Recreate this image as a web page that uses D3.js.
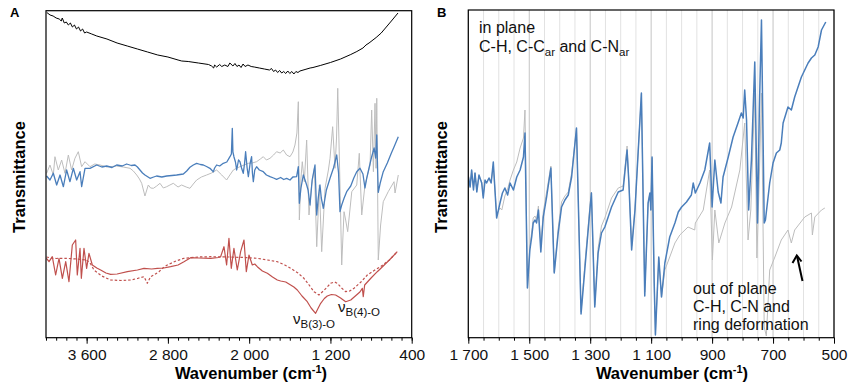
<!DOCTYPE html>
<html><head><meta charset="utf-8">
<script src="https://cdn.jsdelivr.net/npm/d3@7"></script>
<style>
html,body{margin:0;padding:0;background:#fff;}
text{font-family:"Liberation Sans",Arial,sans-serif;}
</style></head>
<body><svg id="c" width="850" height="390"></svg>
<script>
// ---------- DATA (wavenumber cm-1, transmittance a.u.) ----------
const ticksA = [3600, 2800, 2000, 1200, 400];
const ticksB = [1700, 1500, 1300, 1100, 900, 700, 500];

const blackA = [[3992,325.5],[3960,323],[3930,322],[3900,320],[3870,319],[3850,317],[3840,320],[3820,315],[3800,316],[3780,313],[3760,315],[3740,311],[3720,313],[3700,309],[3680,311],[3660,307],[3640,309],[3620,305],[3600,306],[3550,304],[3500,302],[3400,299],[3300,295],[3200,292],[3100,289],[3000,286],[2900,283],[2800,281],[2700,278],[2664,277],[2600,276.5],[2500,275],[2400,273.5],[2370,272],[2350,270],[2340,273],[2320,271],[2290,273.5],[2270,271.5],[2240,273],[2210,271.5],[2190,275],[2160,272],[2140,274.5],[2120,271.5],[2100,273],[2080,270.5],[2060,274],[2040,271.5],[2012,273],[1980,271.5],[1950,271],[1900,270],[1850,269],[1800,268],[1780,269.5],[1760,266.5],[1740,268],[1720,265.5],[1700,267.5],[1680,265],[1660,266.5],[1640,264.5],[1620,267],[1600,264.5],[1580,266.5],[1560,264],[1540,266.5],[1520,265.5],[1500,267],[1450,268.5],[1400,270],[1372,270.5],[1300,272.5],[1200,275.5],[1100,279],[1000,283.5],[940,286.5],[880,290],[850,293],[820,295],[750,300.5],[700,305],[650,311],[600,317],[535,325]];

const blueA = [[3994,162],[3961,158],[3928,164.7],[3895,153],[3862,163],[3829,151.3],[3797,168],[3764,156.3],[3731,169.7],[3698,158],[3665,166.3],[3649,151.3],[3616,169.7],[3567,169.7],[3501,173],[3450,171],[3403,172],[3350,170.5],[3304,173],[3250,172],[3206,174],[3160,172.5],[3124,173],[3100,171],[3075,168],[3050,165],[3026,163],[2976,159.7],[2940,161],[2911,162],[2860,161],[2812,162],[2760,162.5],[2714,163],[2648,164],[2615,167],[2583,170.7],[2550,173],[2517,174.7],[2480,173.5],[2451,173],[2420,171.5],[2386,169.7],[2353,166.3],[2340,170],[2320,173],[2290,172],[2255,174.7],[2220,176],[2189,181.3],[2175,184],[2166,209.7],[2160,186],[2150,181.3],[2135,176],[2123,168],[2105,178],[2091,176.3],[2075,170],[2058,164.7],[2045,175],[2035,186.3],[2020,170],[2008,161.3],[1990,175],[1976,181.3],[1968,165],[1959,156.3],[1945,168],[1927,171.3],[1900,168],[1861,166.3],[1830,163],[1795,161.3],[1760,160],[1730,158.7],[1690,160.5],[1660,158.5],[1631,159.7],[1598,158],[1570,161],[1533,161.3],[1516,171.3],[1506,134.7],[1490,150],[1467,163],[1450,158],[1434,153],[1420,148],[1401,133],[1380,158],[1352,173],[1335,123],[1320,140],[1303,153],[1290,140],[1270,129.7],[1240,148],[1204,159.7],[1170,170],[1138,183],[1120,165],[1106,126.3],[1089,133],[1065,140],[1040,146.3],[1000,152],[970,160],[941,166.3],[909,169.7],[880,164],[860,150],[843,159.7],[820,170],[794,181.3],[770,190],[755,180],[744,203],[736,170],[729,145.7],[710,155],[680,166.3],[640,175],[600,185],[570,192],[532,201.3]];

const grayA = [[3994,164.7],[3961,173],[3928,163],[3912,181.3],[3879,168],[3846,178],[3813,164.7],[3780,183],[3748,168],[3715,179.7],[3682,186.3],[3649,171.3],[3616,176.3],[3567,171.3],[3520,174],[3468,173],[3400,171],[3304,172],[3240,171],[3173,169.7],[3140,167],[3107,163],[3080,159],[3058,154.7],[3026,142],[2993,153],[2970,150],[2943,149.7],[2910,152],[2878,154.7],[2845,150],[2812,151.3],[2780,153],[2747,154.7],[2700,151],[2665,153],[2620,151],[2583,149.7],[2550,154],[2517,158],[2470,161],[2419,163],[2370,165],[2320,168],[2270,163],[2222,158],[2190,163],[2156,168],[2120,170],[2091,171.3],[2050,173],[2008,174.7],[1970,175],[1927,176.3],[1890,179],[1861,181.3],[1830,178],[1795,179.7],[1760,183],[1730,186.3],[1695,185],[1664,188],[1631,183],[1598,181.3],[1570,186],[1549,193],[1530,205],[1516,236.3],[1506,118],[1490,160],[1477,176.3],[1457,156.3],[1445,178],[1434,198],[1411,123],[1385,153],[1358,169.7],[1335,91.3],[1309,153],[1286,86.3],[1253,149.7],[1220,168],[1204,179.7],[1178,211.3],[1155,169.7],[1140,200],[1128,249.7],[1106,153],[1089,73],[1066,126.3],[1050,118],[1030,106.3],[990,146.3],[941,153],[916,184.7],[892,123],[860,153],[810,173],[794,228],[777,166.3],[761,234.7],[751,169.7],[744,239.7],[729,78],[706,113],[680,136.3],[631,146.3],[574,156.3],[564,145],[532,163]];

const redSolidA = [[3995,79.7],[3970,76.3],[3938,81.3],[3905,63],[3872,79.7],[3839,59.7],[3806,76.3],[3774,56.3],[3741,93],[3708,98],[3692,63],[3665,89.7],[3652,59.7],[3626,89.7],[3600,69.7],[3577,84.7],[3544,73],[3500,70],[3462,68],[3410,65],[3364,63.7],[3300,64],[3199,66.3],[3100,68],[3035,69.7],[2960,69],[2904,69.7],[2840,70],[2773,71.3],[2700,73],[2642,76.3],[2576,80.3],[2500,80],[2379,79.7],[2300,80.5],[2281,81.3],[2248,91.3],[2222,73],[2199,99.7],[2176,69.7],[2150,89.7],[2117,68],[2084,86.3],[2051,98],[2028,66.3],[2002,83],[1969,73],[1945,74],[1920,71.3],[1870,67],[1821,64.7],[1770,61],[1723,58],[1690,57],[1640,56],[1592,53],[1560,51],[1526,48],[1480,42],[1428,36.3],[1390,30],[1346,24.7],[1320,30],[1296,34.7],[1260,39.5],[1231,42],[1190,43.5],[1149,43],[1100,40],[1050,36.3],[1000,38],[952,42.3],[910,46],[886,49.7],[877,41.3],[863,53],[800,60],[739,66.3],[680,72],[620,78],[542,86.3]];

const redDashA = [[3995,81],[3950,80],[3900,79.5],[3800,79.7],[3700,79],[3600,78],[3560,74],[3528,68],[3450,62],[3364,58],[3260,57.5],[3167,58],[3100,59.5],[3035,61.3],[3003,54.7],[2970,61.3],[2930,63.5],[2888,66.3],[2850,70],[2806,73],[2720,77],[2642,79.7],[2500,81],[2379,81.3],[2200,81],[2050,80.5],[1920,79.7],[1820,78],[1723,76.3],[1650,73],[1592,69.7],[1520,65],[1461,59.7],[1410,53],[1362,46.3],[1313,43],[1260,48],[1198,54.7],[1160,56],[1132,54.7],[1090,50],[1050,46.3],[1010,47],[968,49.7],[900,56],[837,63],[770,67.5],[706,71.3],[620,78],[542,86.3]];

const blueB = [[1700,161.3],[1694,151],[1689,168],[1683,148],[1678,165],[1672,146],[1665,163],[1656,155],[1651,140],[1645,158],[1640,155],[1632,160],[1625,155],[1618,176],[1607,120],[1596,135],[1588,145],[1580,150],[1571,143],[1563,155],[1552,148],[1541,161],[1530,168],[1519,181],[1514,205],[1506,50],[1498,88],[1492,101],[1487,115],[1481,118],[1476,115],[1470,128],[1462,86],[1454,121],[1443,141],[1429,170],[1418,65],[1405,105],[1394,131],[1383,138],[1372,143],[1361,161],[1345,210],[1330,24],[1317,71],[1301,128],[1296,145],[1285,31],[1274,85],[1263,105],[1252,111],[1230,131],[1208,146],[1192,148],[1179,188],[1173,155],[1164,88],[1153,128],[1132,245],[1121,42],[1110,135],[1104,145],[1101,128],[1097,181],[1090,55],[1086,3],[1075,81],[1066,41],[1055,75],[1039,101],[1022,115],[1011,126],[1000,131],[984,136],[968,143],[962,155],[955,145],[940,155],[924,168],[908,195],[900,131],[891,178],[880,146],[871,135],[864,161],[847,181],[831,201],[815,215],[804,225],[798,220],[793,248],[787,218],[780,128],[771,178],[760,276],[751,115],[745,228],[738,318],[729,115],[725,118],[711,155],[700,175],[689,185],[678,188],[673,195],[667,215],[651,231],[640,228],[629,241],[607,261],[585,275],[574,280],[563,283],[552,291],[541,308],[527,316]];

const grayB = [[1700,163],[1694,153],[1689,167],[1683,150],[1678,165],[1672,148],[1665,162],[1656,156],[1651,142],[1645,158],[1640,156],[1632,160],[1625,156],[1618,172],[1607,124],[1596,130],[1590,128],[1580,142],[1570,150],[1563,158],[1552,168],[1541,176],[1530,190],[1519,200],[1514,228],[1506,50],[1498,92],[1492,106],[1487,120],[1481,122],[1476,118],[1470,132],[1462,92],[1454,126],[1443,146],[1429,172],[1418,66],[1405,110],[1394,136],[1383,142],[1372,146],[1361,165],[1345,210],[1330,26],[1317,76],[1301,132],[1296,146],[1285,33],[1274,90],[1263,112],[1252,120],[1230,140],[1208,150],[1192,152],[1179,192],[1173,156],[1164,92],[1153,130],[1132,244],[1121,46],[1110,134],[1104,145],[1101,128],[1097,180],[1090,56],[1086,4],[1075,80],[1066,41],[1055,68],[1039,81],[1022,95],[1006,103],[979,111],[957,108],[955,115],[929,128],[908,168],[899,78],[891,128],[878,95],[858,115],[836,131],[809,168],[793,215],[782,98],[773,128],[760,245],[753,80],[745,161],[738,245],[729,11],[722,2],[711,68],[694,81],[673,98],[651,108],[640,95],[629,108],[596,121],[574,125],[571,103],[563,121],[541,128],[530,130]];

// ---------- LAYOUT ----------
const svg = d3.select("#c");
const A = {x0:46, x1:411.7, top:10.7, bottom:337.7};
const B = {x0:468.3, x1:834, top:10, bottom:337.7};
const xA = d3.scaleLinear().domain([4000,400]).range([A.x0,A.x1]);
const xB = d3.scaleLinear().domain([1700,500]).range([B.x0,B.x1]);
const y = d3.scaleLinear().domain([0,328]).range([338,10]);
const fmt = v => d3.format(",")(v).replace(",", "\u00a0");

const defs = svg.append("defs");
defs.append("clipPath").attr("id","clipA").append("rect")
  .attr("x",A.x0).attr("y",A.top).attr("width",A.x1-A.x0).attr("height",A.bottom-A.top);
defs.append("clipPath").attr("id","clipB").append("rect")
  .attr("x",B.x0).attr("y",B.top).attr("width",B.x1-B.x0).attr("height",B.bottom-B.top);

// B gridlines
const gridB = d3.range(1700, 499, -50);
svg.append("g").selectAll("line").data(gridB).join("line")
  .attr("x1",d=>xB(d)).attr("x2",d=>xB(d)).attr("y1",B.top).attr("y2",B.bottom)
  .attr("stroke",d=>d%200===100?"#c4c4c4":"#e2e2e2").attr("stroke-width",1);

// lines
function draw(data, x, clip, color, w, dash){
  const line = d3.line().x(d=>x(d[0])).y(d=>y(d[1]));
  svg.append("path").datum(data).attr("d",line).attr("fill","none")
    .attr("stroke",color).attr("stroke-width",w).attr("stroke-linejoin","round")
    .attr("stroke-dasharray",dash||null).attr("clip-path",`url(#${clip})`);
}
draw(blackA, xA, "clipA", "#000", 1);
draw(grayA, xA, "clipA", "#bdbdbd", 1);
draw(blueA, xA, "clipA", "#4a7ebb", 1.3);
draw(redDashA, xA, "clipA", "#c0504d", 1.2, "2.5,2");
draw(redSolidA, xA, "clipA", "#c0504d", 1.2);
draw(grayB, xB, "clipB", "#bdbdbd", 1);
draw(blueB, xB, "clipB", "#4a7ebb", 1.5);

// axes
function axis(x, P, minor, major){
  const gm = svg.append("g").attr("transform",`translate(0,${P.bottom})`)
    .call(d3.axisBottom(x).tickValues(minor).tickSize(3).tickFormat(""));
  gm.select(".domain").remove();
  gm.selectAll("line").attr("stroke","#000");
  const g = svg.append("g").attr("transform",`translate(0,${P.bottom})`)
    .call(d3.axisBottom(x).tickValues(major).tickSize(6).tickPadding(5).tickFormat(fmt));
  g.select(".domain").remove();
  g.selectAll("line").attr("stroke","#000");
  g.selectAll("text").attr("font-size","15.5px").attr("fill","#111")
    .attr("font-family","'Liberation Sans',Arial,sans-serif");
  svg.append("rect").attr("x",P.x0).attr("y",P.top).attr("width",P.x1-P.x0).attr("height",P.bottom-P.top)
    .attr("fill","none").attr("stroke","#000").attr("stroke-width",1.2);
}
axis(xA, A, d3.range(4000,399,-100), ticksA);
axis(xB, B, d3.range(1700,499,-50), ticksB);

// axis titles
function xTitle(cx){
  const t = svg.append("text").attr("x",cx).attr("y",379).attr("text-anchor","middle")
    .attr("font-size","16.5px").attr("font-weight","bold");
  t.append("tspan").text("Wavenumber (cm");
  t.append("tspan").text("-1").attr("font-size","11px").attr("dy",-6);
  t.append("tspan").text(")").attr("dy",6);
}
xTitle(251); xTitle(672);
function yTitle(cx, cy){
  svg.append("text").attr("transform",`translate(${cx},${cy}) rotate(-90)`)
    .attr("text-anchor","middle").attr("font-size","16.5px").attr("font-weight","bold")
    .text("Transmittance");
}
yTitle(25, 177); yTitle(447, 177);

svg.append("text").attr("x",10).attr("y",17).attr("font-size","13px").attr("font-weight","bold").text("A");
svg.append("text").attr("x",437).attr("y",17).attr("font-size","13px").attr("font-weight","bold").text("B");

// annotations A
function nu(x, yy, sub){
  const t = svg.append("text").attr("x",x).attr("y",yy).attr("font-size","15px").attr("fill","#111");
  t.append("tspan").text("\u03bd");
  t.append("tspan").text(sub).attr("font-size","11.5px").attr("dy",4);
}
nu(293, 324, "B(3)-O");
nu(338, 312, "B(4)-O");

// annotations B
const t1 = svg.append("text").attr("x",479).attr("y",33).attr("font-size","16px").attr("fill","#111");
t1.text("in plane");
const t2 = svg.append("text").attr("x",479).attr("y",52).attr("font-size","16px").attr("fill","#111");
t2.append("tspan").text("C-H, C-C");
t2.append("tspan").text("ar").attr("font-size","11.5px").attr("dy",4);
t2.append("tspan").text(" and C-N").attr("dy",-4);
t2.append("tspan").text("ar").attr("font-size","11.5px").attr("dy",4);
["out of plane","C-H, C-N and","ring deformation"].forEach((s,i)=>{
  svg.append("text").attr("x",693).attr("y",293.5+i*18.3).attr("font-size","16px").attr("fill","#111").text(s);
});
// arrow
svg.append("path").attr("d","M802.5,281 L797,256").attr("stroke","#000").attr("stroke-width",2).attr("fill","none");
svg.append("path").attr("d","M792.5,263 L796.8,255.5 L801.5,261.5").attr("stroke","#000").attr("stroke-width",2).attr("fill","none").attr("stroke-linejoin","miter");
</script></body></html>
